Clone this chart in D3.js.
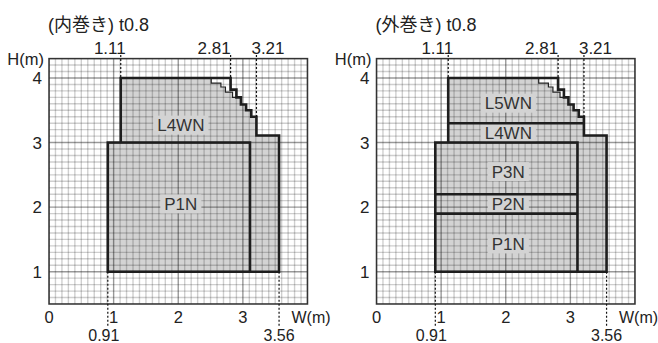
<!DOCTYPE html>
<html><head><meta charset="utf-8">
<script src="https://cdn.jsdelivr.net/npm/d3@7"></script>
<style>
body{margin:0;background:#fff;}
svg{display:block;font-family:"Liberation Sans",Arial,"Noto Sans CJK JP",sans-serif;}
</style></head>
<body>
<svg id="c" width="658" height="343"></svg>
<script>
// ---- data ----
const titles = ["(内巻き) t0.8", "(外巻き) t0.8"];
const xTicks = [0, 1, 2, 3];
const yTicks = [1, 2, 3, 4];
const topMarks = [1.11, 2.81, 3.21];
const bottomMarks = [0.91, 3.56];
// lower (P) layers: [name, y0, y1, labelY]
const lowerLeft = [["P1N", 1.0, 3.0, 2.05]];
const lowerRight = [["P1N", 1.0, 1.9, 1.43], ["P2N", 1.9, 2.2, 2.05], ["P3N", 2.2, 3.0, 2.55]];
// upper (L) layers
const upperLeft = [["L4WN", 3.0, 4.0, 3.27]];
const upperRight = [["L4WN", 3.0, 3.3, 3.15], ["L5WN", 3.3, 4.0, 3.61]];
const lowerX = [0.91, 3.11];
const upperX0 = 1.11;
const stripX = [3.11, 3.56];
const stripTop = 3.11;
// outer staircase (thick) and inner staircase (thin)
const outerStairs = [[2.81,4.0],[2.81,3.82],[2.90,3.82],[2.90,3.70],[2.97,3.70],[2.97,3.59],[3.05,3.59],[3.05,3.50],[3.13,3.50],[3.13,3.40],[3.21,3.40],[3.21,3.11]];
const innerStairs = [[2.51,4.0],[2.51,3.92],[2.66,3.92],[2.66,3.86],[2.73,3.86],[2.73,3.78],[2.84,3.78],[2.84,3.70],[2.90,3.70]];
const labelX = 2.04;

const svg = d3.select("#c");
const FILL = "#d3d3d3";
const panels = [
  {x0: 49, title: titles[0], lower: lowerLeft, upper: upperLeft},
  {x0: 376.5, title: titles[1], lower: lowerRight, upper: upperRight}
];

panels.forEach((p, pi) => {
  const x = d3.scaleLinear().domain([0, 4]).range([p.x0, p.x0 + 258.5]);
  const y = d3.scaleLinear().domain([0.5, 4.3]).range([304, 58.6]);
  const g = svg.append("g");
  const clipId = "clip" + pi;
  g.append("clipPath").attr("id", clipId).append("rect")
    .attr("x", x(0)).attr("y", y(4.3)).attr("width", x(4) - x(0)).attr("height", y(0.5) - y(4.3));

  // gray envelope fill
  const last = innerStairs[innerStairs.length - 1];
  const innerIdx = outerStairs.findIndex(d => d[0] === last[0] && d[1] === last[1]);
  const env = [[lowerX[0], 1.0], [lowerX[0], 3.0], [upperX0, 3.0], [upperX0, 4.0]]
    .concat(innerStairs)
    .concat(outerStairs.slice(innerIdx + 1))
    .concat([[stripX[1], stripTop], [stripX[1], 1.0]]);
  const line = d3.line().x(d => x(d[0])).y(d => y(d[1]));
  g.append("path").attr("d", line(env) + "Z").attr("fill", FILL);

  // grid
  const grid = g.append("g").attr("clip-path", `url(#${clipId})`);
  const xs = d3.range(0, 41).map(i => i / 10);
  const ys = d3.range(5, 44).map(i => i / 10);
  const isMajor = d => Math.abs(d - Math.round(d)) < 1e-6;
  grid.selectAll(".gx").data(xs).join("line")
    .attr("x1", d => x(d)).attr("x2", d => x(d)).attr("y1", y(4.3)).attr("y2", y(0.5))
    .attr("stroke", d => isMajor(d) ? "rgba(0,0,0,0.4)" : "rgba(0,0,0,0.19)")
    .attr("stroke-width", 1.4);
  grid.selectAll(".gy").data(ys).join("line")
    .attr("y1", d => y(d)).attr("y2", d => y(d)).attr("x1", x(0)).attr("x2", x(4))
    .attr("stroke", d => isMajor(d) ? "rgba(0,0,0,0.4)" : "rgba(0,0,0,0.19)")
    .attr("stroke-width", 1.4);

  // frame
  g.append("rect").attr("x", x(0)).attr("y", y(4.3)).attr("width", x(4) - x(0)).attr("height", y(0.5) - y(4.3))
    .attr("fill", "none").attr("stroke", "#333").attr("stroke-width", 1.5);

  // labels with background boxes
  const labels = p.lower.concat(p.upper);
  labels.forEach(l => {
    const t = g.append("text").attr("x", x(labelX)).attr("y", y(l[3])).attr("dy", "0.36em")
      .attr("text-anchor", "middle").attr("font-size", 17).attr("fill", "#333").text(l[0]);
    const bb = t.node().getBBox();
    g.insert("rect", "text").attr("x", bb.x - 4).attr("y", y(l[3]) - 9.5).attr("width", bb.width + 8).attr("height", 19).attr("fill", FILL);
  });

  // thin inner staircase
  g.append("path").attr("d", line(innerStairs)).attr("fill", "none").attr("stroke", "#222").attr("stroke-width", 1.2);

  // outlines
  const stroke = "#1e1e1e", w = 2.6;
  g.append("rect").attr("x", x(lowerX[0])).attr("y", y(3.0)).attr("width", x(lowerX[1]) - x(lowerX[0])).attr("height", y(1.0) - y(3.0))
    .attr("fill", "none").attr("stroke", stroke).attr("stroke-width", w);
  p.lower.slice(1).forEach(l => {
    g.append("line").attr("x1", x(lowerX[0])).attr("x2", x(lowerX[1])).attr("y1", y(l[1])).attr("y2", y(l[1]))
      .attr("stroke", stroke).attr("stroke-width", w);
  });
  const upperPath = [[upperX0, 3.0], [upperX0, 4.0]].concat(outerStairs).concat([[stripX[1], stripTop], [stripX[1], 1.0], [stripX[0], 1.0]]);
  g.append("path").attr("d", line(upperPath)).attr("fill", "none").attr("stroke", stroke).attr("stroke-width", w);
  p.upper.slice(1).forEach(l => {
    g.append("line").attr("x1", x(upperX0)).attr("x2", x(outerStairs[outerStairs.length - 1][0])).attr("y1", y(l[1])).attr("y2", y(l[1]))
      .attr("stroke", stroke).attr("stroke-width", w);
  });

  // dotted marker lines
  const dash = "2,2";
  const cornerPts = [[upperX0, 4.0]].concat(outerStairs);
  topMarks.forEach(v => {
    const hits = cornerPts.filter(d => Math.abs(d[0] - v) < 1e-6);
    const yEnd = hits.length ? d3.max(hits, d => d[1]) : 4.0;
    g.append("line").attr("x1", x(v)).attr("x2", x(v)).attr("y1", 55).attr("y2", y(yEnd))
      .attr("stroke", "#111").attr("stroke-width", 1.2).attr("stroke-dasharray", dash);
  });
  bottomMarks.forEach(v => {
    g.append("line").attr("x1", x(v)).attr("x2", x(v)).attr("y1", y(1.0)).attr("y2", 327)
      .attr("stroke", "#111").attr("stroke-width", 1.2).attr("stroke-dasharray", dash);
  });

  // texts
  const txt = (tx, ty, s, anchor, size) => g.append("text").attr("x", tx).attr("y", ty)
    .attr("text-anchor", anchor || "start").attr("font-size", size || 17).attr("fill", "#222").text(s);
  txt(x(0) - 1, 31, p.title, "start", 18);
  txt(x(0) - 5, 65, "H(m)", "end", 16.5);
  yTicks.forEach(v => txt(x(0) - 7, y(v) + 6, String(v), "end", 17));
  xTicks.forEach(v => txt(x(v), 323, String(v), "middle", 16.5));
  txt(x(4) - 16, 323, "W(m)", "start", 16);
  const topAnchors = ["end", "end", "start"];
  const topDx = [5, 0, -5];
  topMarks.forEach((v, i) => txt(x(v) + topDx[i], 54, d3.format(".2f")(v), topAnchors[i], 17));
  const botDx = [-4, 0];
  bottomMarks.forEach((v, i) => txt(x(v) + botDx[i], 341, d3.format(".2f")(v), "middle", 16));
});
</script>
</body></html>
